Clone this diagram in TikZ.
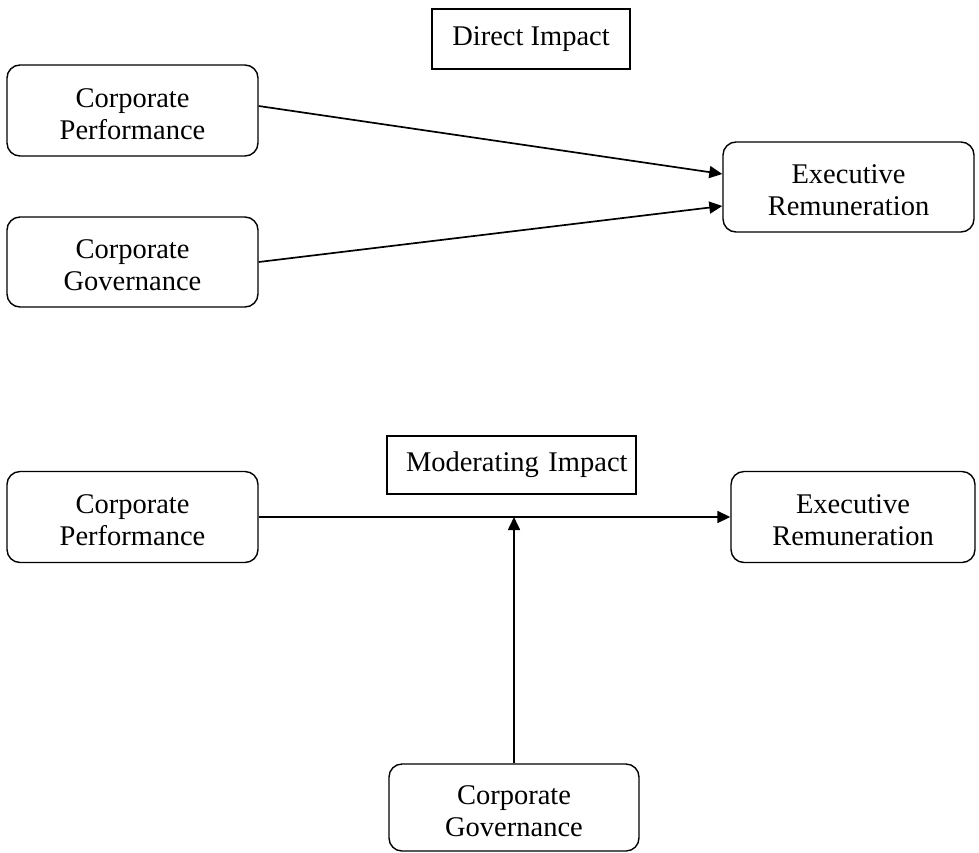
\documentclass[tikz,border=0pt]{standalone}
\usepackage{fontspec}
\setmainfont{Liberation Serif}
\usetikzlibrary{arrows.meta}
\newcommand\upstrut{\rule{0pt}{26pt}}
\begin{document}
\begin{tikzpicture}[x=1pt,y=-1pt,
  txt/.style={font=\fontsize{28.5}{32}\selectfont, align=center, inner sep=0pt},
  rbox/.style={txt, draw, line width=1.4pt, rounded corners=13pt},
  sbox/.style={txt, draw, line width=1.4pt},
  arr/.style={line width=1.7pt, -{Triangle[length=13pt,width=12pt]}}]
\useasboundingbox (0,0) rectangle (979,852);
\node[sbox, minimum width=198pt, minimum height=60pt] (di) at (531,39) {Direct Impact};
\node[rbox, minimum width=251pt, minimum height=91pt] (cp1) at (132.5,110.5) {\upstrut Corporate\\Performance};
\node[rbox, minimum width=251pt, minimum height=90pt] (cg1) at (132.5,262) {\upstrut Corporate\\Governance};
\node[rbox, minimum width=251pt, minimum height=90pt] (er1) at (848.5,187) {\upstrut Executive\\Remuneration};
\draw[arr] ([yshift=4.5pt]cp1.east) -- ([yshift=13pt]er1.west);
\draw[arr] (cg1.east) -- ([yshift=-19pt]er1.west);

\node[sbox, minimum width=249pt, minimum height=58pt, text width=211pt, inner xsep=19pt, align=left] (mi) at (511.5,465) {\makebox[211pt][l]{Moderating Impact}};
\node[rbox, minimum width=251pt, minimum height=91pt] (cp2) at (132.5,517) {\upstrut Corporate\\Performance};
\node[rbox, minimum width=244pt, minimum height=91pt] (er2) at (853,517) {\upstrut Executive\\Remuneration};
\node[rbox, minimum width=250pt, minimum height=87pt] (cg2) at (514,807.5) {\upstrut Corporate\\Governance};
\coordinate (m) at (cg2.north |- cp2.east);
\draw[arr] (cp2.east) -- (er2.west);
\draw[arr] (cg2.north) -- (m);
\end{tikzpicture}
\end{document}
